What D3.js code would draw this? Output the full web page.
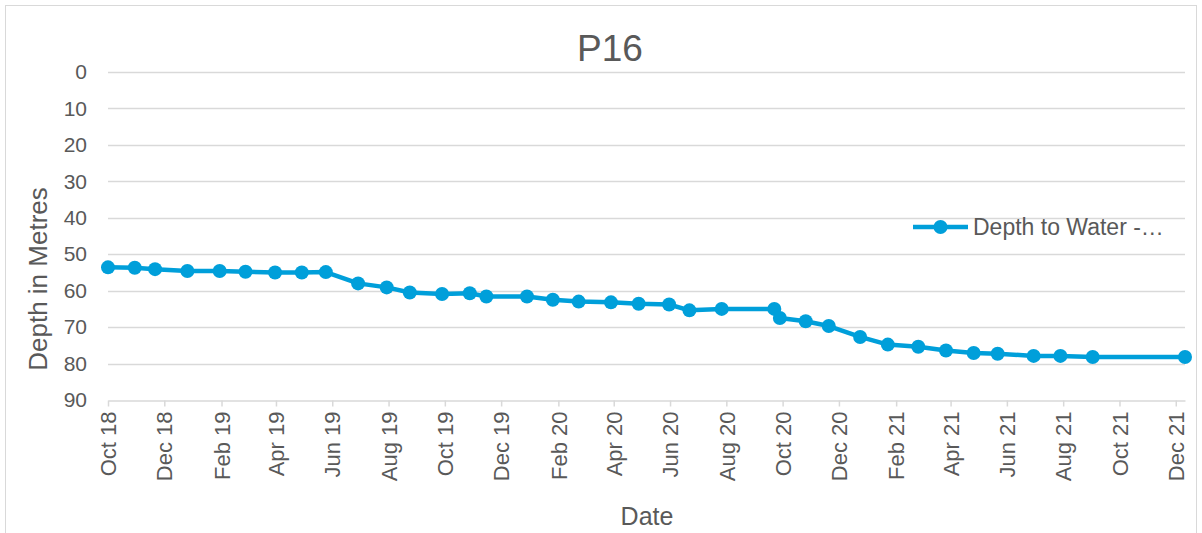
<!DOCTYPE html>
<html>
<head>
<meta charset="utf-8">
<script src="https://cdn.jsdelivr.net/npm/d3@7"></script>
<style>
  html, body { margin: 0; padding: 0; background: #fff; }
  svg { display: block; font-family: "Liberation Sans", Arial, sans-serif; }
</style>
</head>
<body>
<svg id="chart" width="1202" height="533"></svg>
<script>
const title = "P16";
const seriesName = "Depth to Water -…";
const yTitle = "Depth in Metres";
const xTitle = "Date";

const dates = [
  "2018-10-01","2018-10-30","2018-11-21","2018-12-26","2019-01-30","2019-02-27",
  "2019-03-31","2019-04-29","2019-05-25","2019-06-29","2019-07-30","2019-08-24",
  "2019-09-28","2019-10-28","2019-11-15","2019-12-29","2020-01-26","2020-02-23",
  "2020-03-29","2020-04-28","2020-05-31","2020-06-22","2020-07-27","2020-09-22",
  "2020-09-28","2020-10-26","2020-11-20","2020-12-24","2021-01-23","2021-02-25",
  "2021-03-27","2021-04-26","2021-05-22","2021-06-30","2021-07-29","2021-09-02",
  "2021-12-11"
];
const depths = [
  53.6, 53.7, 54.1, 54.6, 54.6, 54.8,
  55.0, 55.0, 54.9, 58.0, 59.1, 60.5,
  60.9, 60.7, 61.6, 61.6, 62.5, 63.0,
  63.2, 63.6, 63.8, 65.4, 65.0, 65.0,
  67.5, 68.4, 69.7, 72.7, 74.8, 75.4,
  76.4, 77.1, 77.3, 77.9, 77.9, 78.2,
  78.2
];
const yTicks = [0, 10, 20, 30, 40, 50, 60, 70, 80, 90];
const xTickDates = [
  "2018-10-01","2018-12-01","2019-02-01","2019-04-01","2019-06-01","2019-08-01",
  "2019-10-01","2019-12-01","2020-02-01","2020-04-01","2020-06-01","2020-08-01",
  "2020-10-01","2020-12-01","2021-02-01","2021-04-01","2021-06-01","2021-08-01",
  "2021-10-01","2021-12-01"
];

const parse = d3.utcParse("%Y-%m-%d");
const fmt = d3.utcFormat("%b %y");
const data = dates.map((d, i) => ({ date: parse(d), value: depths[i] }));

const svg = d3.select("#chart");
const m = { left: 108, right: 1185, top: 72, bottom: 400 };
const textColor = "#595959";
const gridColor = "#d9d9d9";
const lineColor = "#009FDA";

// chart border
svg.append("rect")
  .attr("x", 5.5).attr("y", 5.5)
  .attr("width", 1191).attr("height", 540)
  .attr("fill", "#fff").attr("stroke", gridColor).attr("stroke-width", 1);

const x = d3.scaleUtc()
  .domain([parse("2018-10-01"), parse("2021-12-11")])
  .range([m.left, m.right]);
const y = d3.scaleLinear().domain([0, 90]).range([m.top, m.bottom]);

// gridlines
svg.append("g")
  .selectAll("line")
  .data(yTicks.filter(t => t !== 90))
  .join("line")
  .attr("x1", m.left).attr("x2", m.right)
  .attr("y1", d => Math.round(y(d)) + 0.5).attr("y2", d => Math.round(y(d)) + 0.5)
  .attr("stroke", gridColor).attr("stroke-width", 1.5);

// y axis labels
const yAxis = svg.append("g")
  .attr("transform", `translate(${m.left},0)`)
  .call(d3.axisLeft(y).tickValues(yTicks).tickSize(0).tickPadding(21));
yAxis.select(".domain").remove();
yAxis.selectAll("text")
  .attr("fill", textColor)
  .style("font-size", "21px")
  .style("font-family", "'Liberation Sans', Arial, sans-serif");

// x axis
const xAxis = svg.append("g")
  .attr("transform", `translate(0,${Math.round(y(90)) + 0.5})`)
  .call(d3.axisBottom(x).tickValues(xTickDates.map(parse)).tickFormat(fmt).tickSize(6).tickSizeOuter(0));
xAxis.select(".domain").attr("stroke", gridColor).attr("stroke-width", 1.5);
xAxis.selectAll(".tick line").attr("stroke", gridColor).attr("stroke-width", 1.5);
xAxis.selectAll("text")
  .attr("fill", textColor)
  .style("font-size", "22px")
  .style("font-family", "'Liberation Sans', Arial, sans-serif")
  .attr("text-anchor", "end")
  .attr("transform", "rotate(-90)")
  .attr("x", -11)
  .attr("y", 0)
  .attr("dy", "0.35em");

// line
const line = d3.line().x(d => x(d.date)).y(d => y(d.value));
svg.append("path")
  .datum(data)
  .attr("d", line)
  .attr("fill", "none")
  .attr("stroke", lineColor)
  .attr("stroke-width", 4.5)
  .attr("stroke-linejoin", "round");

svg.append("g")
  .selectAll("circle")
  .data(data)
  .join("circle")
  .attr("cx", d => x(d.date))
  .attr("cy", d => y(d.value))
  .attr("r", 7)
  .attr("fill", lineColor);

// title
svg.append("text")
  .attr("x", 610).attr("y", 61)
  .attr("text-anchor", "middle")
  .attr("fill", textColor)
  .style("font-size", "37px")
  .text(title);

// axis titles
svg.append("text")
  .attr("transform", `translate(47,279) rotate(-90)`)
  .attr("text-anchor", "middle")
  .attr("fill", textColor)
  .style("font-size", "26px")
  .text(yTitle);

svg.append("text")
  .attr("x", 647).attr("y", 525)
  .attr("text-anchor", "middle")
  .attr("fill", textColor)
  .style("font-size", "25px")
  .text(xTitle);

// legend
const lg = svg.append("g").attr("transform", "translate(913,227)");
lg.append("line").attr("x1", 0).attr("x2", 55).attr("y1", 0).attr("y2", 0)
  .attr("stroke", lineColor).attr("stroke-width", 4.5);
lg.append("circle").attr("cx", 27.5).attr("cy", 0).attr("r", 7).attr("fill", lineColor);
lg.append("text").attr("x", 60).attr("y", 0).attr("dy", "0.35em")
  .attr("fill", textColor).style("font-size", "23px").text(seriesName);
</script>
</body>
</html>
